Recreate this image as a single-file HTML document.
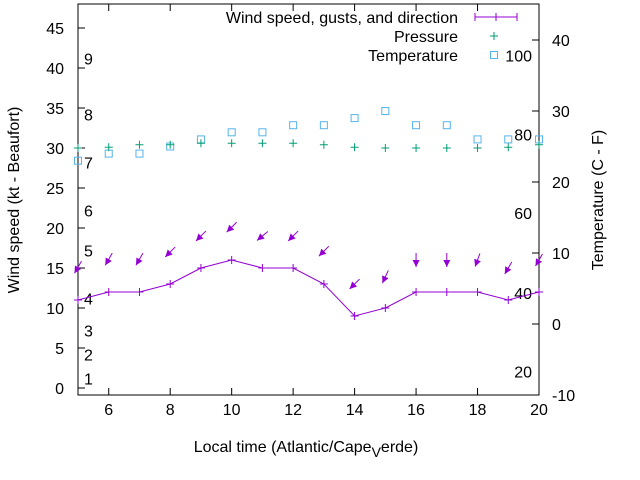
<!DOCTYPE html>
<html><head><meta charset="utf-8"><style>
body{margin:0;background:#fff}
svg{display:block;font-family:"Liberation Sans",sans-serif;font-size:16px}
</style></head><body>
<svg id="chart" width="640" height="480" viewBox="0 0 640 480" xmlns="http://www.w3.org/2000/svg"></svg>
<script>
const hours=[5,6,7,8,9,10,11,12,13,14,15,16,17,18,19,20];
const windSpeed=[11,12,12,13,15,16,15,15,13,9,10,12,12,12,11,12];
const gusts=[15.1,16.1,16.1,17,19,20.1,19,19,17.1,13,13.9,16,16,16,15,16];
const windDir=[30,30,30,45,45,45,50,45,45,45,25,0,0,20,30,30];
const pressure=[30,30.1,30.4,30.4,30.6,30.6,30.6,30.6,30.4,30.1,30,30,30,30,30.1,30.4];
const temperature=[23,24,24,25,26,27,27,28,28,29,30,28,28,26,26,26];
const xTicks=[6,8,10,12,14,16,18,20];
const yTicks=[0,5,10,15,20,25,30,35,40,45];
const y2Ticks=[-10,0,10,20,30,40];
const beaufortLabels=["1","2","3","4","5","6","7","8","9"];
const beaufortY=[1.2,4.2,7.2,11.2,17.2,22.2,28.2,34.2,41.2];
const fahrenheitLabels=["20","40","60","80","100"];
const fahrenheitC=[-6.7,4.4,15.6,26.7,37.8];

const L=78,R=539,T=4,B=395;
const X=h=>L+(h-5)*(R-L)/15;
const Y=v=>388-v*8;
const Y2=c=>324-c*7.1;
const svg=document.getElementById('chart');
const NS='http://www.w3.org/2000/svg';
function mk(tag,attrs,parent){const e=document.createElementNS(NS,tag);for(const k in attrs)e.setAttribute(k,attrs[k]);(parent||svg).appendChild(e);return e;}

const frame=mk('rect',{x:L,y:T,width:R-L,height:B-T,fill:'none',stroke:'#000','stroke-width':1});



const ax=mk('g',{});


xTicks.forEach(h=>{
  mk('line',{x1:X(h),x2:X(h),y1:B,y2:B-7,stroke:'#000'},ax);
  mk('line',{x1:X(h),x2:X(h),y1:T,y2:T+7,stroke:'#000'},ax);
  const t=mk('text',{x:X(h),y:B+20,'text-anchor':'middle'},ax);t.textContent=h;
  
  
});
yTicks.forEach(v=>{
  mk('line',{x1:L,x2:L+7,y1:Y(v),y2:Y(v),stroke:'#000'},ax);
  const t=mk('text',{x:L-14,y:Y(v)+6,'text-anchor':'end'},ax);t.textContent=v;
  
  
});
y2Ticks.forEach(v=>{
  mk('line',{x1:R,x2:R-7,y1:Y2(v),y2:Y2(v),stroke:'#000'},ax);
  const t=mk('text',{x:R+13,y:Y2(v)+6,'text-anchor':'start'},ax);t.textContent=v;
  
  
});
beaufortLabels.forEach((s,i)=>{
  const t=mk('text',{x:84,y:Y(beaufortY[i])+6},ax);t.textContent=s;
  
  
});
fahrenheitLabels.forEach((s,i)=>{
  const t=mk('text',{x:532,y:Y2(fahrenheitC[i])+6,'text-anchor':'end'},ax);t.textContent=s;
  
  
});

// temperature
const tg=mk('g',{fill:'none',stroke:'#56b4e9','stroke-width':1});


hours.forEach((h,i)=>{
  const r=mk('rect',{x:X(h)-3.5,y:Y2(temperature[i])-3.5,width:7,height:7},tg);
  
  
});
// pressure
const pg=mk('g',{stroke:'#009e73','stroke-width':1});


hours.forEach((h,i)=>{
  const x=X(h),y=Y(pressure[i]);
  const p=mk('path',{d:`M${x-4} ${y}H${x+4}M${x} ${y-4}V${y+4}`},pg);
  
  
});
// wind line
const wg=mk('g',{stroke:'#9400d3','stroke-width':1,fill:'none'});


const line=mk('polyline',{points:hours.map((h,i)=>X(h)+','+Y(windSpeed[i])).join(' ')},wg);


hours.forEach((h,i)=>{
  const x=X(h),y=Y(windSpeed[i]);
  const p=mk('path',{d:`M${x-4} ${y}H${x+4}M${x} ${y-4}V${y+4}`},wg);
  
  
});
// gust arrows
const ag=mk('g',{});


hours.forEach((h,i)=>{
  const cx=X(h),cy=Y(gusts[i]);const a=windDir[i]*Math.PI/180;
  const dx=-Math.sin(a),dy=Math.cos(a);const len=14;
  const x1=cx-dx*len/2,y1=cy-dy*len/2,x2=cx+dx*len/2,y2=cy+dy*len/2;
  const g=mk('g',{},ag);
  
  
  mk('line',{x1,y1,x2,y2,stroke:'#9400d3','stroke-width':1},g);
  const px=-dy,py=dx,hl=7,hw=3.5;
  const bx=x2-dx*hl,by=y2-dy*hl;
  mk('polygon',{points:`${x2},${y2} ${bx+px*hw},${by+py*hw} ${bx-px*hw},${by-py*hw}`,fill:'#9400d3'},g);
});

// legend
const lg=mk('g',{});


[["Wind speed, gusts, and direction",17],["Pressure",36],["Temperature",55]].forEach(([s,y],i)=>{
  const t=mk('text',{x:458,y:y+6,'text-anchor':'end'},lg);t.textContent=s;
  
  
});
mk('path',{d:'M475 17H517M475 13V21M517 13V21M492 17M496 13V21',stroke:'#9400d3',fill:'none'},lg);
mk('path',{d:'M490 36H498M494 32V40',stroke:'#009e73'},lg);
mk('rect',{x:490.5,y:51.5,width:7,height:7,fill:'none',stroke:'#56b4e9'},lg);

// titles
const xt=mk('text',{x:306,y:452,'text-anchor':'middle'});
xt.innerHTML='Local time (Atlantic/Cape<tspan dy="5" font-size="14">V</tspan><tspan dy="-5">erde)</tspan>';


const yt=mk('text',{x:0,y:0,'text-anchor':'middle',transform:'translate(19,200) rotate(-90)'});
yt.textContent='Wind speed (kt - Beaufort)';


const y2t=mk('text',{x:0,y:0,'text-anchor':'middle',transform:'translate(603,200) rotate(-90)'});
y2t.textContent='Temperature (C - F)';


</script>
</body></html>
